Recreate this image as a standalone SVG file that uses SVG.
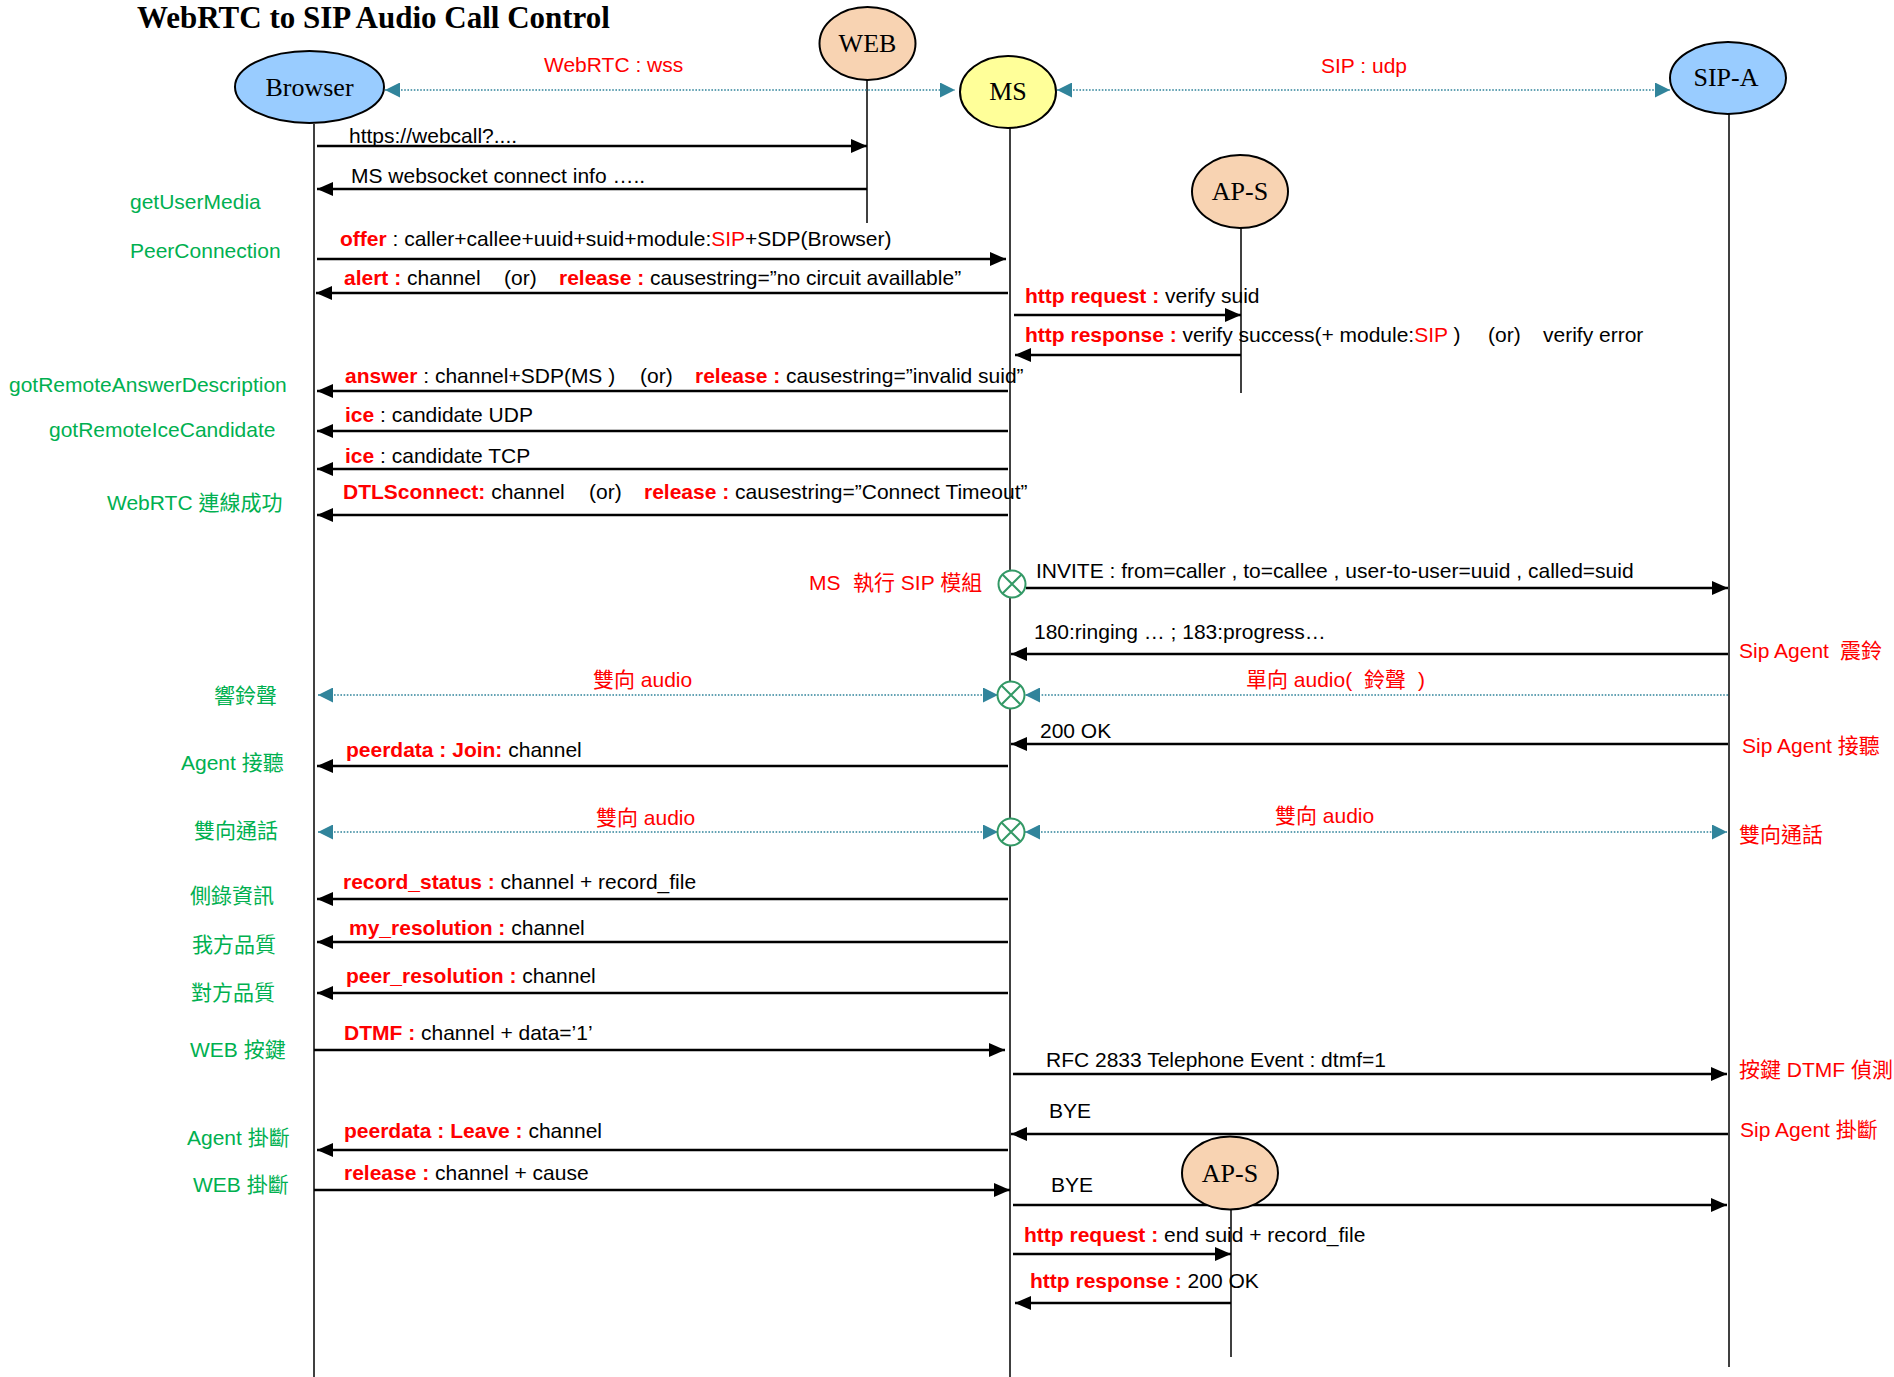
<svg xmlns="http://www.w3.org/2000/svg" width="1894" height="1377" viewBox="0 0 1894 1377">
<defs>
<style>
text{font-family:"Liberation Sans",Arial,"Noto Sans CJK TC",sans-serif;font-size:21px;fill:#000;white-space:pre}
.g{fill:#00B050}
.r{fill:#FF0000}
.b{fill:#FF0000;font-weight:bold}
.node text,.title{font-family:"Liberation Serif","Times New Roman",serif}
.node text{font-size:26px;text-anchor:middle}
.title{font-size:31px;font-weight:bold}
.life{stroke:#000;stroke-width:1.5;fill:none}
.msg{stroke:#000;stroke-width:2.3;fill:none;marker-end:url(#ab)}
.dot{stroke:#31849B;stroke-width:1.6;stroke-dasharray:1.6 1.6;fill:none}
.ell{stroke:#000;stroke-width:2}
.cx{fill:#fff;stroke:#339966;stroke-width:2}
</style>
<marker id="ab" markerWidth="16" markerHeight="14" refX="16" refY="7" orient="auto" markerUnits="userSpaceOnUse"><path d="M0,0 L16,7 L0,14 z" fill="#000"/></marker>
<marker id="at" markerWidth="15" markerHeight="15" refX="15" refY="7.5" orient="auto-start-reverse" markerUnits="userSpaceOnUse"><path d="M0,0 L15,7.5 L0,15 z" fill="#31849B"/></marker>
</defs>
<rect width="1894" height="1377" fill="#fff"/>
<text class="title" x="137" y="28">WebRTC to SIP Audio Call Control</text>

<g id="lifelines">
<line class="life" x1="314" y1="124" x2="314" y2="1377"/>
<line class="life" x1="867" y1="80" x2="867" y2="223"/>
<line class="life" x1="1010" y1="128" x2="1010" y2="1377"/>
<line class="life" x1="1241" y1="228" x2="1241" y2="393"/>
<line class="life" x1="1729" y1="114" x2="1729" y2="1367"/>
<line class="life" x1="1231" y1="1210" x2="1231" y2="1357"/>
</g>

<g id="connectors">
<line class="dot" x1="385" y1="90" x2="955" y2="90" marker-start="url(#at)" marker-end="url(#at)"/>
<line class="dot" x1="1057" y1="90" x2="1670" y2="90" marker-start="url(#at)" marker-end="url(#at)"/>
<line class="msg" x1="317" y1="146" x2="867" y2="146"/>
<line class="msg" x1="867" y1="189" x2="317" y2="189"/>
<line class="msg" x1="317" y1="259" x2="1006" y2="259"/>
<line class="msg" x1="1008" y1="293" x2="316" y2="293"/>
<line class="msg" x1="1014" y1="315" x2="1241" y2="315"/>
<line class="msg" x1="1241" y1="355" x2="1015" y2="355"/>
<line class="msg" x1="1008" y1="391" x2="317" y2="391"/>
<line class="msg" x1="1008" y1="431" x2="317" y2="431"/>
<line class="msg" x1="1008" y1="469" x2="317" y2="469"/>
<line class="msg" x1="1008" y1="515" x2="317" y2="515"/>
<line class="msg" x1="1026" y1="588" x2="1728" y2="588"/>
<line class="msg" x1="1728" y1="654" x2="1011" y2="654"/>
<line class="dot" x1="318" y1="695" x2="998" y2="695" marker-start="url(#at)" marker-end="url(#at)"/>
<line class="dot" x1="1728" y1="695" x2="1025" y2="695" marker-end="url(#at)"/>
<line class="msg" x1="1728" y1="744" x2="1011" y2="744"/>
<line class="msg" x1="1008" y1="766" x2="317" y2="766"/>
<line class="dot" x1="318" y1="832" x2="998" y2="832" marker-start="url(#at)" marker-end="url(#at)"/>
<line class="dot" x1="1025" y1="832" x2="1727" y2="832" marker-start="url(#at)" marker-end="url(#at)"/>
<line class="msg" x1="1008" y1="899" x2="317" y2="899"/>
<line class="msg" x1="1008" y1="942" x2="317" y2="942"/>
<line class="msg" x1="1008" y1="993" x2="317" y2="993"/>
<line class="msg" x1="314" y1="1050" x2="1005" y2="1050"/>
<line class="msg" x1="1013" y1="1074" x2="1727" y2="1074"/>
<line class="msg" x1="1728" y1="1134" x2="1011" y2="1134"/>
<line class="msg" x1="1008" y1="1150" x2="317" y2="1150"/>
<line class="msg" x1="314" y1="1190" x2="1010" y2="1190"/>
<line class="msg" x1="1013" y1="1205" x2="1727" y2="1205"/>
<line class="msg" x1="1013" y1="1254" x2="1231" y2="1254"/>
<line class="msg" x1="1231" y1="1303" x2="1015" y2="1303"/>
</g>

<g id="joins">
<g id="join1"><circle class="cx" cx="1012" cy="584" r="13.5"/><path d="M1002.5,574.5 L1021.5,593.5 M1021.5,574.5 L1002.5,593.5" stroke="#339966" stroke-width="2"/></g>
<g id="join2"><circle class="cx" cx="1011" cy="695" r="13.5"/><path d="M1001.5,685.5 L1020.5,704.5 M1020.5,685.5 L1001.5,704.5" stroke="#339966" stroke-width="2"/></g>
<g id="join3"><circle class="cx" cx="1011" cy="832" r="13.5"/><path d="M1001.5,822.5 L1020.5,841.5 M1020.5,822.5 L1001.5,841.5" stroke="#339966" stroke-width="2"/></g>
</g>

<g class="node">
<g id="browser"><ellipse class="ell" cx="309.5" cy="87" rx="74.5" ry="36" fill="#99CCFF"/><text x="309.5" y="96">Browser</text></g>
<g id="web"><ellipse class="ell" cx="867.5" cy="43.5" rx="48" ry="36.5" fill="#F8D3B2"/><text x="867.5" y="52">WEB</text></g>
<g id="ms"><ellipse class="ell" cx="1008" cy="92" rx="48" ry="36" fill="#FFFF99"/><text x="1008" y="100">MS</text></g>
<g id="sipa"><ellipse class="ell" cx="1728" cy="78" rx="58" ry="36" fill="#99CCFF"/><text x="1726" y="86">SIP-A</text></g>
<g id="aps1"><ellipse class="ell" cx="1240" cy="191.5" rx="48" ry="36.5" fill="#F8D3B2"/><text x="1240" y="200">AP-S</text></g>
<g id="aps2"><ellipse class="ell" cx="1230" cy="1173" rx="48" ry="36.5" fill="#F8D3B2"/><text x="1230" y="1182">AP-S</text></g>
</g>

<g id="labels">
<text class="r" x="544" y="72">WebRTC : wss</text>
<text class="r" x="1321" y="73">SIP : udp</text>
<text x="349" y="143">https://webcall?....</text>
<text x="351" y="183">MS websocket connect info …..</text>
<text class="g" x="130" y="209">getUserMedia</text>
<text class="g" x="130" y="258">PeerConnection</text>
<text x="340" y="246"><tspan class="b">offer</tspan> : caller+callee+uuid+suid+module:<tspan class="r">SIP</tspan>+SDP(Browser)</text>
<text x="344" y="285"><tspan class="b">alert :</tspan> channel</text>
<text x="504" y="285">(or)</text>
<text x="559" y="285"><tspan class="b">release :</tspan> causestring=”no circuit availlable”</text>
<text x="1025" y="303"><tspan class="b">http request :</tspan> verify suid</text>
<text x="1025" y="342"><tspan class="b">http response :</tspan> verify success(+ module:<tspan class="r">SIP</tspan> )</text>
<text x="1488" y="342">(or)</text>
<text x="1543" y="342">verify error</text>
<text class="g" x="9" y="392">gotRemoteAnswerDescription</text>
<text x="345" y="383"><tspan class="b">answer</tspan> : channel+SDP(MS )</text>
<text x="640" y="383">(or)</text>
<text x="695" y="383"><tspan class="b">release :</tspan> causestring=”invalid suid”</text>
<text class="g" x="49" y="437">gotRemoteIceCandidate</text>
<text x="345" y="422"><tspan class="b">ice</tspan> : candidate UDP</text>
<text x="345" y="463"><tspan class="b">ice</tspan> : candidate TCP</text>
<text x="343" y="499"><tspan class="b">DTLSconnect:</tspan> channel</text>
<text x="589" y="499">(or)</text>
<text x="644" y="499"><tspan class="b">release :</tspan> causestring=”Connect Timeout”</text>
<text class="g" x="107" y="510">WebRTC 連線成功</text>
<text class="r" x="809" y="590">MS</text>
<text class="r" x="853" y="590">執行 SIP 模組</text>
<text x="1036" y="578">INVITE : from=caller , to=callee , user-to-user=uuid , called=suid</text>
<text x="1034" y="639">180:ringing … ; 183:progress…</text>
<text class="r" x="1739" y="658">Sip Agent</text>
<text class="r" x="1840" y="658">震鈴</text>
<text class="r" x="593" y="687">雙向 audio</text>
<text class="r" x="1246" y="687">單向 audio(</text>
<text class="r" x="1364" y="687">鈴聲</text>
<text class="r" x="1418" y="687">)</text>
<text class="g" x="214" y="703">響鈴聲</text>
<text x="1040" y="738">200 OK</text>
<text class="r" x="1742" y="753">Sip Agent 接聽</text>
<text x="346" y="757"><tspan class="b">peerdata : Join:</tspan> channel</text>
<text class="g" x="181" y="770">Agent 接聽</text>
<text class="r" x="596" y="825">雙向 audio</text>
<text class="r" x="1275" y="823">雙向 audio</text>
<text class="g" x="194" y="838">雙向通話</text>
<text class="r" x="1739" y="842">雙向通話</text>
<text x="343" y="889"><tspan class="b">record_status :</tspan> channel + record_file</text>
<text class="g" x="190" y="903">側錄資訊</text>
<text x="349" y="935"><tspan class="b">my_resolution :</tspan> channel</text>
<text class="g" x="192" y="952">我方品質</text>
<text x="346" y="983"><tspan class="b">peer_resolution :</tspan> channel</text>
<text class="g" x="191" y="1000">對方品質</text>
<text x="344" y="1040"><tspan class="b">DTMF :</tspan> channel + data=’1’</text>
<text class="g" x="190" y="1057">WEB 按鍵</text>
<text x="1046" y="1067">RFC 2833 Telephone Event : dtmf=1</text>
<text class="r" x="1739" y="1077">按鍵 DTMF 偵測</text>
<text x="1049" y="1118">BYE</text>
<text class="r" x="1740" y="1137">Sip Agent 掛斷</text>
<text x="344" y="1138"><tspan class="b">peerdata : Leave :</tspan> channel</text>
<text class="g" x="187" y="1145">Agent 掛斷</text>
<text x="344" y="1180"><tspan class="b">release :</tspan> channel + cause</text>
<text class="g" x="193" y="1192">WEB 掛斷</text>
<text x="1051" y="1192">BYE</text>
<text x="1024" y="1242"><tspan class="b">http request :</tspan> end suid + record_file</text>
<text x="1030" y="1288"><tspan class="b">http response :</tspan> 200 OK</text>
</g>
</svg>
